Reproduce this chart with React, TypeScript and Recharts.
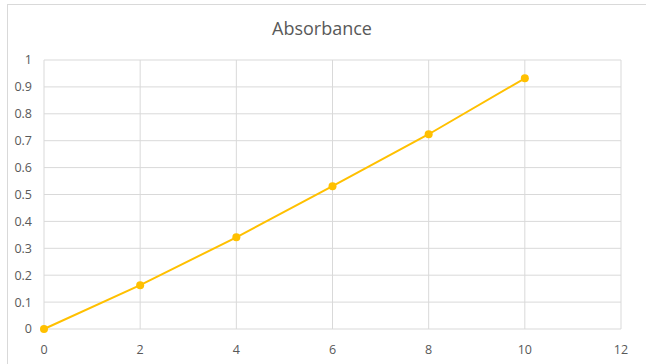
import React from "react";
import { LineChart, Line, XAxis, YAxis, CartesianGrid } from "recharts";

const concentrations = [0, 2, 4, 6, 8, 10];
const absorbance = [0, 0.163, 0.341, 0.531, 0.724, 0.932];
const xTicks = [0, 2, 4, 6, 8, 10, 12];
const yTicks = [0, 0.1, 0.2, 0.3, 0.4, 0.5, 0.6, 0.7, 0.8, 0.9, 1];

const data = concentrations.map((c, i) => ({ x: c, y: absorbance[i] }));

const FONT = "'Open Sans', 'Liberation Sans', sans-serif";

export default function App() {
  return (
    <div style={{ position: "absolute", left: 0, top: 0, width: 646, height: 364, background: "#fff", overflow: "hidden" }}>
      <div
        style={{
          position: "absolute",
          left: 7,
          top: 4,
          width: 680,
          height: 400,
          border: "1px solid #d9d9d9",
          boxSizing: "border-box",
        }}
      />
      <div
        style={{
          position: "absolute",
          left: 0,
          width: 644,
          top: 16,
          textAlign: "center",
          fontFamily: FONT,
          fontSize: 18,
          color: "#595959",
        }}
      >
        Absorbance
      </div>
      <div style={{ position: "absolute", left: 0, top: 0 }}>
        <LineChart width={646} height={364} data={data} margin={{ top: 60, right: 25, bottom: 0, left: 0 }}>
          <CartesianGrid stroke="#d9d9d9" strokeWidth={1} />
          <XAxis
            dataKey="x"
            type="number"
            domain={[0, 12]}
            ticks={xTicks}
            axisLine={false}
            tickLine={false}
            tickSize={0}
            tickMargin={16}
            height={35}
            tick={{ fill: "#595959", fontSize: 12.5, fontFamily: FONT }}
          />
          <YAxis
            type="number"
            domain={[0, 1]}
            ticks={yTicks}
            axisLine={false}
            tickLine={false}
            tickSize={0}
            tickMargin={12}
            width={44}
            tick={{ fill: "#595959", fontSize: 12.5, fontFamily: FONT }}
          />
          <Line
            dataKey="y"
            type="linear"
            stroke="#FFC000"
            strokeWidth={2}
            dot={{ r: 4, fill: "#FFC000", stroke: "#FFC000", strokeWidth: 0 }}
            isAnimationActive={false}
          />
        </LineChart>
      </div>
    </div>
  );
}
